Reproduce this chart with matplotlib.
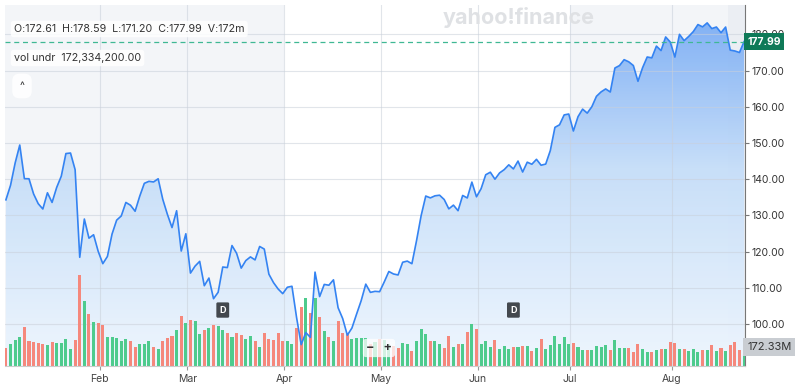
import numpy as np
import matplotlib.pyplot as plt
from matplotlib.colors import LinearSegmentedColormap
from matplotlib.transforms import blended_transform_factory

# daily closes, 31 Dec .. 22 Aug (one per trading day)
prev_close = 137.49
close = [134.29,
         138.31, 144.47, 149.43, 140.14, 140.11, 135.91, 133.23, 131.76, 136.24, 133.57,
         137.71, 140.83, 147.07, 147.22, 142.62, 118.42, 128.99, 123.70, 124.65, 120.07,
         116.66, 118.65, 124.83, 128.68, 129.84, 133.57, 132.80, 131.14, 135.29, 138.85,
         139.40, 139.23, 140.11, 134.43, 130.28, 126.63, 131.28, 120.15, 124.92,
         114.06, 115.99, 117.30, 110.57, 112.69, 106.98, 108.76, 115.74, 115.58, 121.67,
         119.53, 115.43, 117.52, 118.53, 117.70, 121.41, 120.69, 113.76, 111.43, 109.67, 108.38,
         110.15, 110.42, 101.80, 94.31, 97.64, 96.30, 114.33, 107.57, 110.93, 110.71,
         112.20, 104.49, 101.49, 96.91, 98.89, 102.71, 106.43, 111.01, 108.73, 109.02, 108.92,
         111.61, 114.50, 113.82, 113.54, 117.06, 117.37, 116.65, 123.00, 129.93, 135.34,
         134.83, 135.40, 135.57, 134.38, 131.80, 132.83, 131.29, 135.50, 134.81, 139.19, 135.13,
         137.38, 141.22, 141.92, 139.99, 141.72, 142.63, 143.96, 142.83, 145.00, 141.97,
         144.69, 144.12, 145.48, 143.85, 144.17, 147.90, 154.31, 155.02, 157.75, 157.99,
         153.30, 157.25, 159.34, 158.24, 160.00, 162.88, 164.10, 164.92, 164.07, 170.70, 171.37,
         173.00, 172.41, 171.38, 167.03, 170.78, 173.74, 173.50, 176.75, 175.51, 179.27, 177.87,
         173.72, 180.00, 178.26, 179.42, 180.77, 182.70, 182.06, 183.16, 181.59, 182.02,
         180.45, 182.01, 175.64, 175.40, 174.98, 177.99]

# volume in millions
volume = [159,
          198, 234, 264, 348, 228, 216, 210, 198, 186, 216, 210, 204, 240, 156, 234, 819, 585, 468, 396, 390,
          372, 258, 264, 252, 228, 240, 222, 168, 198, 198, 222, 168, 150, 228, 252, 270, 324, 450, 390,
          414, 402, 288, 324, 342, 366, 360, 324, 300, 258, 300, 282, 246, 270, 228, 168, 294, 240, 234, 300, 228,
          222, 200, 342, 534, 612, 474, 612, 438, 315, 264, 228, 402, 294, 288, 246, 252, 250, 255, 200, 220, 240,
          235, 200, 180, 159, 204, 198, 138, 228, 330, 288, 228, 228, 198, 162, 270, 168, 198, 198, 306, 375, 336,
          198, 228, 168, 234, 156, 180, 156, 168, 168, 180, 180, 138, 162, 240, 150, 189, 270, 198, 264, 198,
          210, 174, 144, 144, 144, 180, 168, 192, 144, 234, 162, 162, 162, 126, 198, 156, 126, 126, 144, 156, 156, 219,
          204, 150, 156, 138, 156, 126, 144, 144, 186, 138, 162, 138, 186, 219, 144, 172.33]

months = ['Feb', 'Mar', 'Apr', 'May', 'Jun', 'Jul', 'Aug']
month_start = [21, 40, 61, 82, 103, 123, 145]   # index of first trading day
price_ticks = [100, 110, 120, 130, 140, 150, 160, 170, 180]
dividend_days = [47, 110]
ohlc_text = 'O:172.61  H:178.59  L:171.20  C:177.99  V:172m'
vol_text = 'vol undr  172,334,200.00'
last_vol_label = '172.33M'

plt.rcParams['font.family'] = ['Inter', 'DejaVu Sans']

n = len(close)
x = np.arange(n)
y_lo, y_hi = 88.4, 188.1
vol_max = 3252.0   # volume that would fill the axes height

fig = plt.figure(figsize=(8, 3.86), dpi=100)
ax = fig.add_axes([5/800, 20/386, 740/800, 361/386])
ax.set_xlim(-0.2, n - 0.8)
ax.set_ylim(y_lo, y_hi)
ax.set_facecolor('white')

# alternating month shading
ax.axvspan(-0.2, month_start[2] - 0.7, color='#f3f5f8', zorder=0, lw=0)
ax.axvspan(month_start[5] - 0.7, n - 0.8, color='#f3f5f8', zorder=0, lw=0)
ax.axvspan(156.6, n - 0.8, color='#ebeef3', zorder=0, lw=0)

# gradient area under the line
fill = ax.fill_between(x, close, y_lo, color='none', lw=0)
cmap = LinearSegmentedColormap.from_list('area', [(0, '#eef6fe'), (0.55, '#c4ddf9'), (1, '#70a6f4')])
grad = np.linspace(0, 1, 256).reshape(-1, 1)
im = ax.imshow(grad, cmap=cmap, origin='lower', aspect='auto', alpha=0.92,
               extent=[-0.2, n - 0.8, y_lo, y_hi], zorder=1)
im.set_clip_path(fill.get_paths()[0], transform=ax.transData)

# grid
for p in price_ticks:
    ax.axhline(p, color='#c9d0da', lw=0.8, alpha=0.55, zorder=1.5)
for m in month_start:
    ax.axvline(m - 0.7, color='#c9d0da', lw=0.8, alpha=0.55, zorder=1.5)

# volume bars
prev = np.r_[prev_close, close[:-1]]
cols = ['#4ecb8d' if c >= p else '#f5887c' for c, p in zip(close, prev)]
xt = ax.get_xaxis_transform()
ax.bar(x, np.array(volume) / vol_max, width=0.66, color=cols, transform=xt, zorder=2)

# price line
ax.plot(x, close, color='#3483f2', lw=1.2, zorder=3)

# last price dashed line
ax.axhline(close[-1], color='#3fb894', lw=0.9, ls=(0, (4, 3)), zorder=3.5)

# axes styling
ax.yaxis.tick_right()
ax.set_yticks(price_ticks)
ax.set_yticklabels(['%.2f' % p for p in price_ticks])
ax.tick_params(axis='y', length=3, width=0.8, color='#777777', labelsize=7.5,
               labelcolor='#333333', pad=2)
ax.set_xticks([m - 0.7 for m in month_start])
ax.set_xticklabels(months)
ax.tick_params(axis='x', length=3, width=0.8, color='#999999', labelsize=7.5,
               labelcolor='#444444', pad=3)
for s in ['top', 'left']:
    ax.spines[s].set_visible(False)
ax.spines['right'].set_color('#777777')
ax.spines['right'].set_linewidth(0.8)
ax.spines['bottom'].set_color('#cccccc')
ax.spines['bottom'].set_linewidth(0.8)

# right side labels
ax.text(1.003, close[-1], '%.2f' % close[-1], transform=blended_transform_factory(ax.transAxes, ax.transData),
        ha='left', va='center', fontsize=7.5, color='white', fontweight='bold',
        bbox=dict(boxstyle='square,pad=0.3', fc='#0f7a58', ec='none'), zorder=6, clip_on=False)
ax.text(1.003, volume[-1] / vol_max, last_vol_label, transform=ax.transAxes,
        ha='left', va='center', fontsize=8, color='#333333',
        bbox=dict(boxstyle='square,pad=0.35', fc='#c9cdd2', ec='none'), zorder=6, clip_on=False)

# dividend markers
for d in dividend_days:
    ax.text(d, 0.155, 'D', transform=xt, ha='center', va='center', fontsize=6.5,
            color='white', fontweight='bold', zorder=5,
            bbox=dict(boxstyle='round,pad=0.35,rounding_size=0.15', fc='#43484e', ec='none'))

# watermark and overlays
fig.text(519/800, 1 - 17/386, 'yahoo!finance', ha='center', va='center', fontsize=15.5,
         fontweight='bold', color='#dfe1e4')
fig.text(14/800, 1 - 29/386, ohlc_text, ha='left', va='center', fontsize=7.7, color='#333333',
         bbox=dict(boxstyle='round,pad=0.3', fc='white', ec='none', alpha=0.85))
fig.text(14/800, 1 - 58/386, vol_text, ha='left', va='center', fontsize=7.7, color='#333333',
         bbox=dict(boxstyle='round,pad=0.3', fc='white', ec='none', alpha=0.85))
fig.text(22/800, 1 - 86/386, '^', ha='center', va='center', fontsize=7.5, color='#333333',
         bbox=dict(boxstyle='round,pad=0.7', fc='white', ec='none', alpha=0.9))
fig.text(379/800, 1 - 348/386, '\u2212   +', ha='center', va='center', fontsize=9,
         color='#333333', fontweight='bold',
         bbox=dict(boxstyle='round,pad=0.25', fc='white', ec='none', alpha=0.75))

fig.savefig('out.png', dpi=100)
